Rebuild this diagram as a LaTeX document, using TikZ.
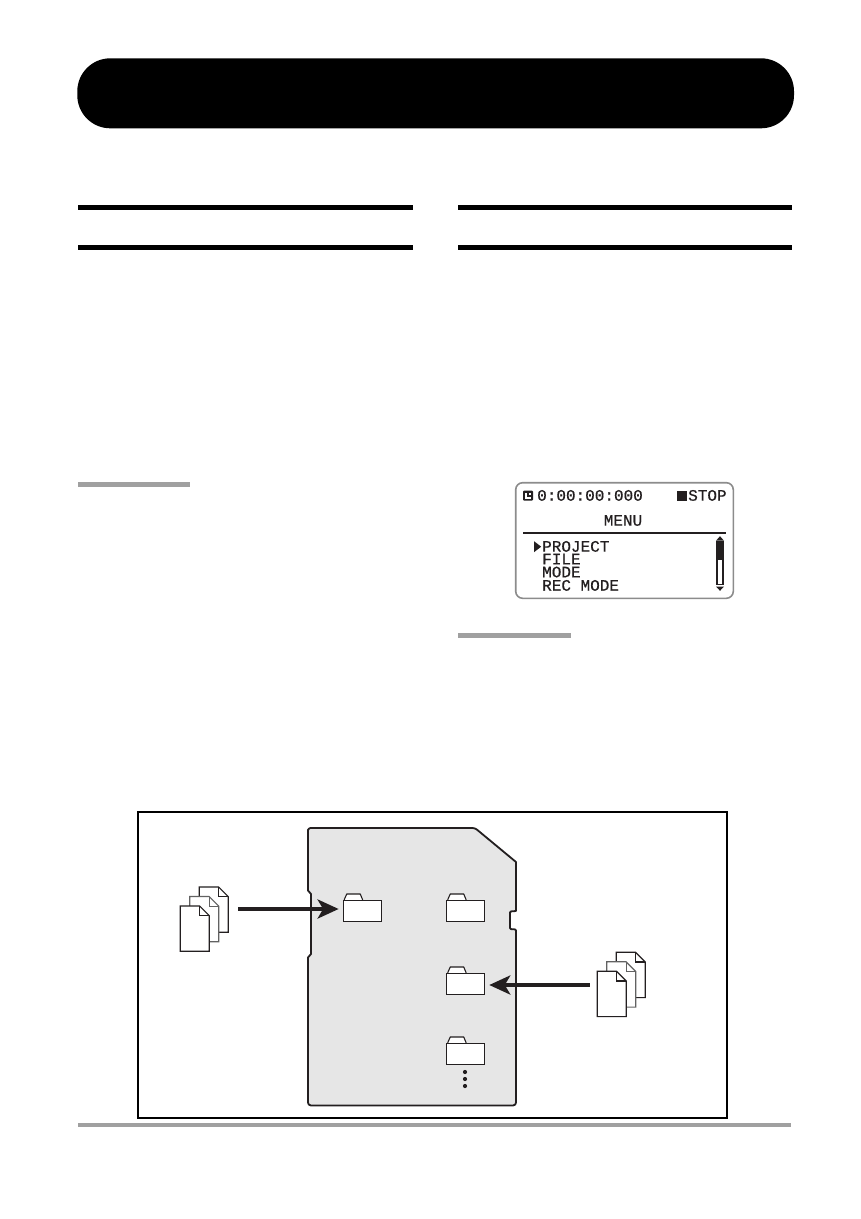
\documentclass[tikz,border=0pt]{standalone}
\usepackage{fontspec}
\newfontfamily\lcdfont[FakeBold=0.5]{Liberation Mono}
\usetikzlibrary{arrows.meta}
\definecolor{ink}{HTML}{231F20}
\definecolor{cardgrey}{HTML}{E6E6E6}
\definecolor{rulegrey}{HTML}{A0A0A0}
\definecolor{lcdgrey}{HTML}{8C8C8C}
\tikzset{
  blackrule/.style={fill=black,draw=none},
  greyrule/.style={fill=rulegrey,draw=none},
  lcdtext/.style={font=\lcdfont\fontsize{16}{16}\selectfont,text=ink,inner sep=0pt,anchor=base west},
  folderbox/.style={draw=ink,fill=white,line width=1.1pt,rectangle,minimum width=38pt,minimum height=21.3pt,inner sep=0pt},
  foldertab/.style={draw=ink,fill=white,line width=1.1pt,line join=round},
  sheet/.style={draw=#1,fill=white,line width=1.15pt,line join=miter},
  stack/.style={rectangle,draw=none,inner sep=0pt,minimum width=48.3pt,minimum height=40pt},
  bigarrow/.style={draw=ink,line width=4.4pt,-{Stealth[length=21pt,width=19pt,inset=5.5pt]},shorten >=4pt},
  dot/.style={circle,fill=ink,draw=none,inner sep=0pt,minimum size=4.2pt}
}
% one sheet: top-left corner at (#1,#2), outline colour #3
\newcommand{\docsheet}[3]{%
  \draw[sheet=#3] (#1,#2) -- ++(19.3,0) -- ++(9.7,9.7) -- ++(0,35.6) -- ++(-29,0) -- cycle;
  \draw[sheet=#3,fill=none] (#1+19.3,#2) -- ++(0,9.7) -- ++(9.7,0);
}
\newcommand{\docstack}[2]{%
  \docsheet{#1+19}{#2-19}{ink}
  \docsheet{#1+9.5}{#2-9.5}{lcdgrey!70!black}
  \docsheet{#1}{#2}{ink}
}
\newcommand{\tabon}[1]{%
  \draw[foldertab] ([xshift=1.5pt]#1.north west) -- ++(2.6pt,5.8pt) -- ++(13.5pt,0) -- ++(2.4pt,-5.8pt);
}
\begin{document}
\begin{tikzpicture}[x=1pt,y=-1pt]
\useasboundingbox[fill=white] (0,0) rectangle (861,1219);
% banner and section rules
\fill[black,rounded corners=33pt] (77.3,58.3) rectangle (794,128.3);
\fill[blackrule] (78,205) rectangle (413,210);
\fill[blackrule] (78,245) rectangle (413,250);
\fill[blackrule] (458,205) rectangle (792,210);
\fill[blackrule] (458,245) rectangle (792,250);
\fill[greyrule] (78,482) rectangle (190,486.5);
\fill[greyrule] (458,633) rectangle (571,637.5);
\fill[greyrule] (78,1122.5) rectangle (791,1127);
% LCD screen
\draw[draw=lcdgrey,line width=1.6pt,rounded corners=7pt] (515.7,482.7) rectangle (733.3,598.3);
\fill[ink,rounded corners=1pt] (523,490.7) rectangle (533,500.7);
\fill[white] (525,492.7) rectangle (531,498.7);
\draw[ink,line width=1.2pt] (528,492.7) -- (528,496) -- (531,496);
\node[lcdtext] (clock) at (537,500.7) {0:00:00:000};
\fill[ink] (676.7,490.7) rectangle (686.7,500.7);
\node[lcdtext] (stop) at (688,500.7) {STOP};
\node[lcdtext,anchor=base] (menu) at (623,525.7) {MENU};
\draw[ink,line width=1.7pt] (523,532.7) -- (726,532.7);
\fill[ink] (534,541.2) -- (541.2,546.7) -- (534,552.2) -- cycle;
\node[lcdtext] (project) at (542,551.7) {PROJECT};
\node[lcdtext] (file) at (542,564.3) {FILE};
\node[lcdtext] (mode) at (542,577.3) {MODE};
\node[lcdtext] (recmode) at (542,590.7) {REC MODE};
\fill[ink] (720,536.2) -- (724,540.7) -- (716,540.7) -- cycle;
\fill[ink] (720,590.8) -- (724,586.5) -- (716,586.5) -- cycle;
\draw[ink,line width=1.1pt,fill=white] (717,541.7) rectangle (723,584.8);
\fill[ink] (716.5,541.7) rectangle (723.5,560);
% frame
\draw[black,line width=2.2pt] (137.7,811.7) rectangle (727,1118);
% SD card
\draw[draw=ink,fill=cardgrey,line width=1.8pt,line join=round]
  (308,831) [rounded corners=2.5pt] -- (308,828) -- (475,828)
  [sharp corners] -- (516,862) -- (516,911)
  [rounded corners=1pt] -- (510,911.5) -- (510,929) -- (516,929.5)
  [rounded corners=3pt] -- (516,1105.5) -- (308,1105.5)
  [rounded corners=1.5pt] -- (308,956) -- (311,955.5) -- (311,892.5) -- (308,892) -- cycle;
% folders
\node[folderbox] (f1) at (362.2,911) {};
\node[folderbox] (f2) at (465.7,911) {};
\node[folderbox] (f3) at (465.7,984) {};
\node[folderbox] (f4) at (465.7,1054) {};
\tabon{f1}\tabon{f2}\tabon{f3}\tabon{f4}
\node[dot] (d1) at (465,1072) {};
\node[dot] (d2) at (465,1079) {};
\node[dot] (d3) at (465,1086) {};
% document stacks
\docstack{180.3}{906}
\docstack{597.3}{971.3}
\node[stack] (docsA) at (204.4,909) {};
\node[stack] (docsB) at (621.4,985) {};
% arrows
\draw[bigarrow,shorten <=9.6pt] (docsA.east) -- (docsA.east -| f1.west);
\draw[bigarrow,shorten <=7.3pt] (docsB.west) -- (docsB.west -| f3.east);
\end{tikzpicture}
\end{document}
